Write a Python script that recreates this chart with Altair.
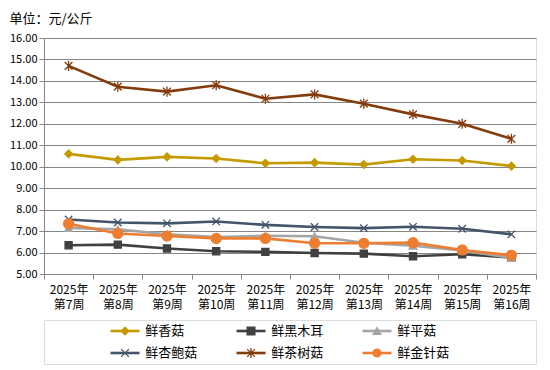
import altair as alt
import pandas as pd

weeks = ["2025年第7周", "2025年第8周", "2025年第9周", "2025年第10周", "2025年第11周",
         "2025年第12周", "2025年第13周", "2025年第14周", "2025年第15周", "2025年第16周"]

series_names = ["鲜香菇", "鲜黑木耳", "鲜平菇", "鲜杏鲍菇", "鲜茶树菇", "鲜金针菇"]

xianggu = [10.60, 10.32, 10.46, 10.38, 10.16, 10.19, 10.10, 10.35, 10.29, 10.03]
heimuer = [6.34, 6.37, 6.19, 6.06, 6.03, 5.98, 5.95, 5.83, 5.92, 5.77]
pinggu = [7.15, 7.08, 6.85, 6.72, 6.78, 6.76, 6.46, 6.32, 6.10, 5.75]
xingbaogu = [7.54, 7.40, 7.36, 7.45, 7.29, 7.19, 7.14, 7.20, 7.11, 6.85]
chashugu = [14.70, 13.73, 13.50, 13.80, 13.17, 13.37, 12.94, 12.44, 12.00, 11.30]
jinzhengu = [7.34, 6.89, 6.77, 6.66, 6.66, 6.43, 6.43, 6.46, 6.12, 5.87]

y_ticks = [5, 6, 7, 8, 9, 10, 11, 12, 13, 14, 15, 16]

line_colors = ["#C49A00", "#404040", "#A5A5A5", "#44546A", "#843C0C", "#ED7D31"]
marker_shapes = ["diamond", "square", "triangle-up",
                 "M-1,-1L1,1M-1,1L1,-1",
                 "M-1,-1L1,1M-1,1L1,-1M0,-1.3L0,1.3",
                 "circle"]
marker_sizes = [60, 50, 60, 55, 60, 100]

FONT = "Noto Sans CJK SC"

values = [xianggu, heimuer, pinggu, xingbaogu, chashugu, jinzhengu]
rows = []
for name, vals in zip(series_names, values):
    for w, v in zip(weeks, vals):
        rows.append({"week": w, "name": name, "value": v})
df = pd.DataFrame(rows)

color_scale = alt.Scale(domain=series_names, range=line_colors)
shape_scale = alt.Scale(domain=series_names, range=marker_shapes)

x_enc = alt.X("week:N", sort=weeks,
              scale=alt.Scale(type="band", paddingInner=0, paddingOuter=0),
              axis=alt.Axis(title=None, labelAngle=0, tickBand="extent", tickSize=5,
                            labelExpr="[slice(datum.label, 0, 5), slice(datum.label, 5)]",
                            labelFont=FONT, labelFontSize=12, labelColor="#000000",
                            labelLineHeight=15, labelPadding=5,
                            domainColor="#868686", tickColor="#868686", grid=False))
y_enc = alt.Y("value:Q", scale=alt.Scale(domain=[5, 16], nice=False, zero=False),
              axis=alt.Axis(title=None, values=y_ticks, format=".2f", tickSize=5,
                            labelFont=FONT, labelFontSize=11, labelColor="#000000",
                            labelPadding=2, domainColor="#868686", tickColor="#868686",
                            gridColor="#868686", gridWidth=1))

layers = []
for i, name in enumerate(series_names):
    base = alt.Chart(df).transform_filter(alt.datum.name == name)
    line = base.mark_line(strokeWidth=2.6).encode(
        x=x_enc, y=y_enc,
        color=alt.Color("name:N", scale=color_scale, legend=None))
    pts = base.mark_point(filled=True, opacity=1, strokeWidth=1.3, size=marker_sizes[i]).encode(
        x=x_enc, y=y_enc,
        color=alt.Color("name:N", scale=color_scale, legend=None),
        stroke=alt.Stroke("name:N", scale=color_scale, legend=None),
        shape=alt.Shape("name:N", scale=shape_scale, legend=None))
    layers += [line, pts]

main = alt.layer(*layers).properties(
    width=492, height=236,
    title=alt.Title("单位：元/公斤", anchor="start", font=FONT, fontSize=13,
                    fontWeight="normal", color="#000000", offset=6))

# legend built as a small chart
leg_rows = []
for i, name in enumerate(series_names):
    leg_rows.append({"name": name, "col": i % 3, "row": i // 3})
leg_df = pd.DataFrame(leg_rows)

lx = alt.Scale(domain=[-0.643, 3.262])
ly = alt.Scale(domain=[-0.5, 1.5], reverse=True)
lbase = alt.Chart(leg_df).transform_calculate(
    x1="datum.col - 0.115", x2="datum.col + 0.115", xt="datum.col + 0.16")
lrule = lbase.mark_rule(strokeWidth=2.6).encode(
    x=alt.X("x1:Q", scale=lx, axis=None), x2="x2:Q",
    y=alt.Y("row:Q", scale=ly, axis=None),
    color=alt.Color("name:N", scale=color_scale, legend=None))
lpts = lbase.mark_point(filled=True, opacity=1, strokeWidth=1.3, size=60).encode(
    x=alt.X("col:Q", scale=lx, axis=None),
    y=alt.Y("row:Q", scale=ly, axis=None),
    color=alt.Color("name:N", scale=color_scale, legend=None),
    stroke=alt.Stroke("name:N", scale=color_scale, legend=None),
    shape=alt.Shape("name:N", scale=shape_scale, legend=None))
ltext = lbase.mark_text(align="left", baseline="middle", font=FONT, fontSize=13,
                        color="#000000").encode(
    x=alt.X("xt:Q", scale=lx, axis=None),
    y=alt.Y("row:Q", scale=ly, axis=None),
    text="name:N")
legend = alt.layer(lrule, lpts, ltext).properties(width=492, height=44)

chart = alt.vconcat(main, legend, spacing=8).properties(
    padding={"left": 1, "top": 4, "right": 0, "bottom": 0}
).configure_view(stroke=None).configure(background="#ffffff")

chart.save("out.html", embed_options={"renderer": "svg", "actions": False})
